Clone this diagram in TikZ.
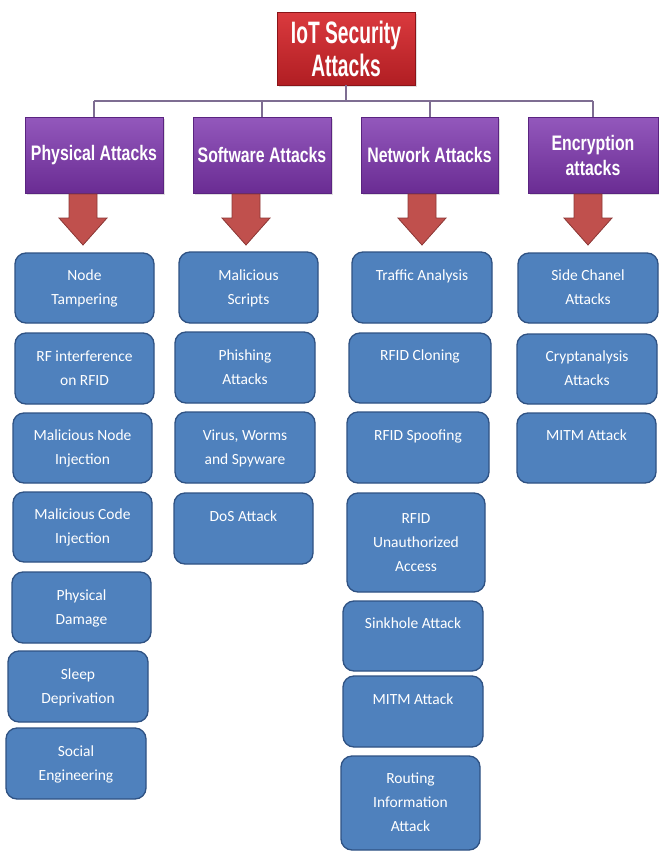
\documentclass[tikz,border=0pt]{standalone}
\usepackage{fontspec}
\usetikzlibrary{shadows}
\newfontfamily\boxfont{Carlito}
\newfontfamily\hdfont[FakeStretch=0.755]{Liberation Sans}
\newfontfamily\ttlfont[FakeStretch=0.62]{Liberation Sans}
\definecolor{boxblue}{HTML}{4F81BD}
\definecolor{boxedge}{HTML}{2F5283}
\definecolor{hdtop}{HTML}{9358BC}
\definecolor{hdbot}{HTML}{6A2C93}
\definecolor{hdedge}{HTML}{5A2480}
\definecolor{ttop}{HTML}{DA3A3E}
\definecolor{tbot}{HTML}{B11E23}
\definecolor{tedge}{HTML}{8A1418}
\definecolor{arrred}{HTML}{C0504D}
\definecolor{arredge}{HTML}{8C3836}
\definecolor{connc}{HTML}{7E6D92}
\newcommand\attbox[6]{%
  \node[bbox, minimum width={#4-#2}, minimum height={#5-#3}] (#1) at ({(#2+#4)/2},{(#3+#5)/2}) {#6};}
\newcommand\blockarrow[1]{%
  \draw[arrst] ({#1-14},194) -- ({#1+14},194) -- ({#1+14},218) -- ({#1+24},218) -- (#1,245) -- ({#1-24},218) -- ({#1-14},218) -- cycle;}
\begin{document}
\begin{tikzpicture}[x=1pt,y=-1pt,
  bbox/.style={rounded corners=11pt, fill=boxblue, draw=boxedge, line width=1.3pt,
    text=white, align=center, inner sep=0pt,
    font={\boxfont\fontsize{15.5}{24}\selectfont}},
  hdbox/.style={top color=hdtop, bottom color=hdbot, draw=hdedge, line width=0.8pt,
    text=white, align=center, inner sep=0pt,
    drop shadow={opacity=0.25, shadow xshift=2pt, shadow yshift=-2pt},
    font={\hdfont\bfseries\fontsize{21}{25}\selectfont}},
  ttlbox/.style={top color=ttop, bottom color=tbot, draw=tedge, line width=0.8pt,
    text=white, align=center, inner sep=0pt,
    drop shadow={opacity=0.25, shadow xshift=2pt, shadow yshift=-2pt},
    font={\ttlfont\bfseries\fontsize{31}{33}\selectfont}},
  conn/.style={draw=connc, line width=2pt},
  arrst/.style={fill=arrred, draw=arredge, line width=0.8pt, line join=miter}]
\useasboundingbox[fill=white] (0,0) rectangle (659,852);

% title
\node[ttlbox, minimum width=138, minimum height=73] (title) at (346,48.5) {IoT Security\\Attacks};

% headers
\node[hdbox, minimum width=138, minimum height=76] (hp) at (94,155) {Physical Attacks};
\node[hdbox, minimum width=138, minimum height=76] (hs) at (262,155) {Software Attacks};
\node[hdbox, minimum width=137, minimum height=76] (hn) at (429.5,155) {Network Attacks};
\node[hdbox, minimum width=130, minimum height=76] (he) at (593,155) {Encryption\\attacks};

% connectors
\coordinate (bus) at (0,101);
\draw[conn] (title.south) -- (title.south |- bus);
\draw[conn] (hp.north |- bus) -- (he.north |- bus);
\draw[conn] (hp.north |- bus) -- (hp.north);
\draw[conn] (hs.north |- bus) -- (hs.north);
\draw[conn] (hn.north |- bus) -- (hn.north);
\draw[conn] (he.north |- bus) -- (he.north);

% block arrows
\blockarrow{83}
\blockarrow{246}
\blockarrow{422}
\blockarrow{588}

% physical
\attbox{p1}{15}{253}{154}{323}{\strut Node\\\strut Tampering}
\attbox{p2}{15}{333}{154}{404}{\strut RF interference\\\strut on RFID}
\attbox{p3}{13}{413}{152}{483}{\strut Malicious Node\\\strut Injection}
\attbox{p4}{13}{492}{152}{562}{\strut Malicious Code\\\strut Injection}
\attbox{p5}{12}{572}{151}{643}{\strut Physical\\\strut Damage}
\attbox{p6}{8}{651}{148}{722}{\strut Sleep\\\strut Deprivation}
\attbox{p7}{6}{728}{146}{799}{\strut Social\\\strut Engineering}

% software
\attbox{s1}{179}{252}{318}{323}{\strut Malicious\\\strut Scripts}
\attbox{s2}{175}{332}{315}{403}{\strut Phishing\\\strut Attacks}
\attbox{s3}{175}{412}{315}{483}{\strut Virus, Worms\\\strut and Spyware}
\attbox{s4}{174}{493}{313}{564}{\strut DoS Attack\\\strut}

% network
\attbox{n1}{352}{252}{492}{323}{\strut Traffic Analysis\\\strut}
\attbox{n2}{349}{333}{491}{403}{\strut RFID Cloning\\\strut}
\attbox{n3}{347}{412}{489}{483}{\strut RFID Spoofing\\\strut}
\attbox{n4}{347}{493}{485}{592}{\strut RFID\\\strut Unauthorized\\\strut Access}
\attbox{n5}{343}{601}{483}{671}{\strut Sinkhole Attack\\\strut}
\attbox{n6}{343}{676}{483}{747}{\strut MITM Attack\\\strut}
\attbox{n7}{341}{756}{480}{850}{\strut Routing\\\strut Information\\\strut Attack}

% encryption
\attbox{e1}{518}{253}{658}{323}{\strut Side Chanel\\\strut Attacks}
\attbox{e2}{517}{334}{657}{404}{\strut Cryptanalysis\\\strut Attacks}
\attbox{e3}{517}{413}{656}{483}{\strut MITM Attack\\\strut}
\end{tikzpicture}
\end{document}
